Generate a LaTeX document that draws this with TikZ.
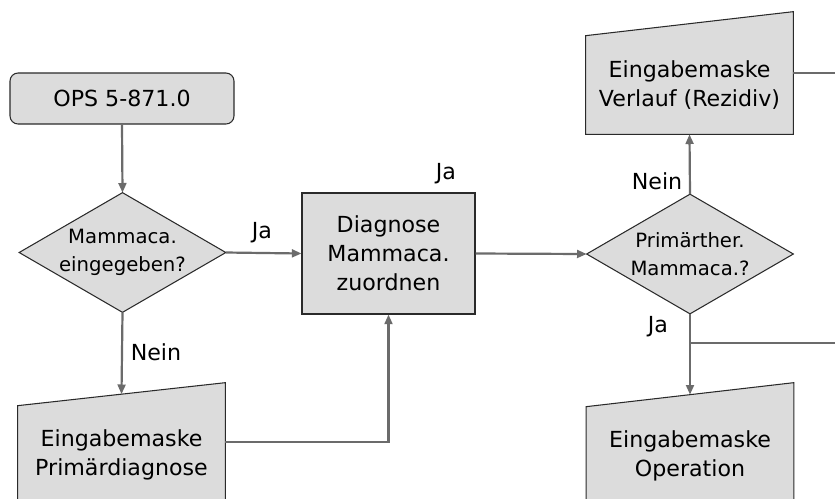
\documentclass[tikz,border=0pt]{standalone}
\usepackage{fontspec}
\setmainfont{DejaVu Sans}
\usetikzlibrary{arrows.meta,calc,backgrounds}

\definecolor{boxgray}{HTML}{DCDCDC}
\definecolor{linegray}{HTML}{6B6B6B}
\definecolor{edgegray}{HTML}{2A2A2A}

\tikzset{
  boxtext/.style={align=center,font=\fontsize{12.6}{16.6}\selectfont,inner sep=0pt},
  qtext/.style={align=center,font=\fontsize{11.2}{15.8}\selectfont,inner sep=0pt},
  startbox/.style={boxtext,draw=edgegray,fill=boxgray,line width=0.6pt,rounded corners=0.16cm,
    minimum width=4.48cm,minimum height=1.02cm},
  procbox/.style={boxtext,draw=edgegray,fill=boxgray,line width=0.6pt,
    minimum width=3.46cm,minimum height=2.42cm},
  maskbox/.style={boxtext,minimum width=4.14cm,minimum height=1.96cm},
  qbox/.style={qtext,minimum width=4.12cm,minimum height=2.38cm},
  shapefill/.style={draw=edgegray,fill=boxgray,line width=0.6pt},
  flow/.style={draw=linegray,line width=1.25pt},
  arr/.style={flow,-{Triangle[length=5.5pt,width=4.5pt]}},
  lbl/.style={font=\fontsize{12.6}{15}\selectfont,inner sep=0pt}
}

\begin{document}
\begin{tikzpicture}[x=0.02cm,y=-0.02cm]
    \useasboundingbox (0,0) rectangle (835,498);
    \clip (0,0) rectangle (835,498);

    % boxes
    \node[startbox] (ops) at (122,98.5) {OPS 5-871.0};
    \node[qbox] (q1) at (122.5,252.5) {Mammaca.\\eingegeben?};
    \node[procbox] (diag) at (388.5,253.5) {Diagnose\\Mammaca.\\zuordnen};
    \node[qbox] (q2) at (690,254) {Primärther.\\Mammaca.?};
    \node[maskbox] (verl) at (689.5,85) {Eingabemaske\\Verlauf (Rezidiv)};
    \node[maskbox] (prim) at (121.5,455) {Eingabemaske\\Primärdiagnose};
    \node[maskbox] (oper) at (690,456) {Eingabemaske\\Operation};

    \begin{scope}[on background layer]
        \draw[shapefill] (q1.north)--(q1.east)--(q1.south)--(q1.west)--cycle;
        \draw[shapefill] (q2.north)--(q2.east)--(q2.south)--(q2.west)--cycle;
        \draw[shapefill] (verl.south west)--(verl.north west)--($(verl.north east)+(0,-24)$)--(verl.south east)--cycle;
        \draw[shapefill] (prim.south west)--(prim.north west)--($(prim.north east)+(0,-23)$)--(prim.south east)--cycle;
        \draw[shapefill] (oper.south west)--(oper.north west)--($(oper.north east)+(0,-24)$)--(oper.south east)--cycle;
    \end{scope}

    % free ends on the right border
    \coordinate (outA) at (845,73);
    \coordinate (outB) at (845,343);
    \coordinate (primin) at ($(prim.north)+(0,-11.5)$);
    \coordinate (operin) at ($(oper.north)+(0,-12)$);
    \coordinate (verlout) at ($(verl.east)+(0,-12)$);
    \coordinate (primout) at ($(prim.east)+(0,-13)$);

    % connectors
    \draw[arr] (ops.south) -- (q1.north);
    \draw[arr] (q1.east) -- (diag.west);
    \draw[arr] (q1.south) -- (primin);
    \draw[arr] (primout) -| (diag.south);
    \draw[arr] (diag.east) -- (q2.west);
    \draw[arr] (q2.north) -- (verl.south);
    \draw[arr] (q2.south) -- (operin);
    \draw[flow] (q2.south |- outB) -- (outB);
    \draw[flow] (verlout) -- (verlout -| outA);

    % labels
    \node[lbl] (ja1) at (262,233) {Ja};
    \node[lbl] (ja2) at (446,174) {Ja};
    \node[lbl] (nein1) at (156,352) {Nein};
    \node[lbl] (nein2) at (657,181) {Nein};
    \node[lbl] (ja3) at (658,327) {Ja};
\end{tikzpicture}
\end{document}
